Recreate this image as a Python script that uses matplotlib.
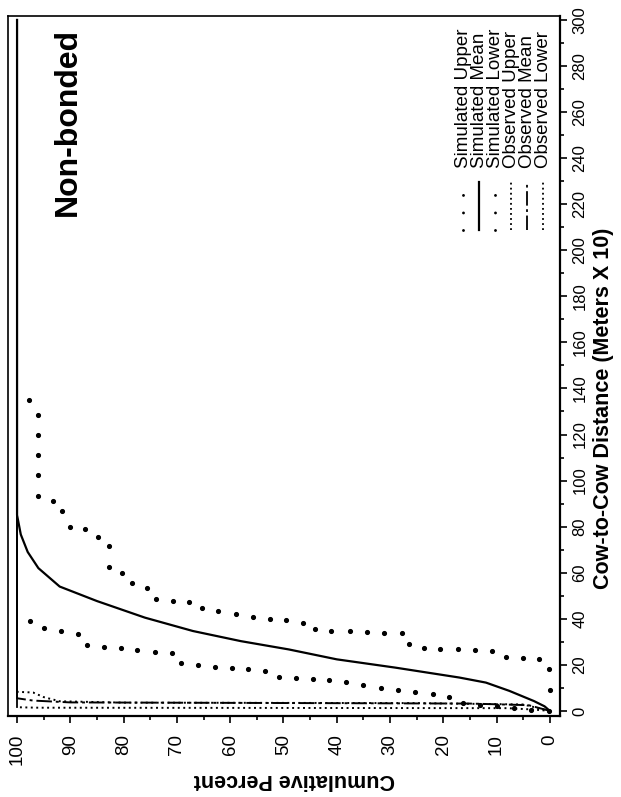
import matplotlib
matplotlib.use("Agg")
import matplotlib.pyplot as plt
from matplotlib.lines import Line2D

plt.rcParams['font.family'] = ['Liberation Sans', 'DejaVu Sans']

# cumulative percent (p) against cow-to-cow distance (d, meters x 10)
sim_mean_d = [0, 2, 4.3, 8.7, 12.3, 14.5, 18.8, 22.4, 26.7, 30.3, 34.7, 40.5, 47.7, 54, 62, 69, 76.6, 85, 300]
sim_mean_p = [0, 1, 3, 7.6, 12, 17, 29, 40, 49, 58, 67, 76, 85, 92, 96, 98, 99.3, 100, 100]

sim_upper_d = [0, 0.3, 1.2, 2.2, 2.6, 3.6, 6.2, 7.5, 8.2, 9, 9.8, 11.1, 12.6, 13.4, 14, 14.5, 14.7,
               17.3, 18, 18.5, 19.2, 19.9, 20.7, 25, 25.7, 26.4, 27.2, 27.7, 28.6, 33.5, 34.7, 36.1, 39]
sim_upper_p = [0.1, 3.5, 6.8, 10, 13.1, 16.3, 18.9, 22, 25.4, 28.5, 31.7, 35, 38.2, 41.4, 44.5, 47.7, 50.8,
               53.4, 56.6, 59.7, 62.9, 66, 69.2, 71, 74.2, 77.4, 80.5, 83.7, 86.9, 88.5, 91.8, 95, 97.5]

sim_lower_d = [9, 18, 22.4, 23, 23.6, 26, 26.3, 26.7, 26.7, 27.2, 28.9, 33.7, 34, 34.4, 34.7, 34.7, 35.7,
               38.3, 39.3, 39.7, 40.8, 41.9, 43.4, 44.8, 47.4, 47.7, 48.7, 53.2, 55.6, 59.7, 62.6, 71.8,
               75.4, 78.8, 79.8, 86.7, 91.3, 93.5, 102.6, 111, 120, 128.6, 135]
sim_lower_p = [0, 0.1, 2, 5.1, 8.3, 10.9, 14, 17.2, 20.6, 23.7, 26.5, 27.8, 31.2, 34.3, 37.6, 41, 44,
               46.3, 49.5, 52.5, 55.8, 59, 62.3, 65.3, 67.7, 70.7, 74, 75.7, 78.5, 80.3, 82.7, 82.8,
               84.8, 87.2, 90.1, 91.5, 93.2, 96.1, 96, 96, 96, 96, 97.8]

obs_upper_d = [0, 0.6, 1.2, 1.3, 1.4, 1.6, 300]
obs_upper_p = [0, 3, 8, 50, 96, 100, 100]
obs_mean_d = [0, 2.5, 3.2, 3.5, 3.7, 4.5, 5.5, 300]
obs_mean_p = [0, 4, 15, 60, 90, 97, 100, 100]
obs_lower_d = [0, 2.8, 3.4, 3.6, 4.2, 6, 8, 8.3, 300]
obs_lower_p = [0, 5, 25, 80, 92, 95, 97, 100, 100]

legend_labels = ["Simulated Upper", "Simulated Mean", "Simulated Lower",
                 "Observed Upper", "Observed Mean", "Observed Lower"]

W, H = 621, 797


def fx(px):
    return px / W


def fy(py):
    return 1 - py / H


fig = plt.figure(figsize=(W / 100, H / 100), dpi=100)
ax = fig.add_axes([fx(8), fy(716), fx(560) - fx(8), fy(16) - fy(716)])

dotted_big = dict(linestyle='none', marker='o', markersize=2.7, color='black')
obs_dot = (0, (1, 1.8))
obs_dash = (0, (8, 2, 1.5, 2))

# observed curves: patterned until they reach 100 %, the run along 100 % reads as solid
for pp, dd, ls in [(obs_upper_p, obs_upper_d, obs_dot),
                   (obs_mean_p, obs_mean_d, obs_dash),
                   (obs_lower_p, obs_lower_d, obs_dot)]:
    k = pp.index(100)
    ax.plot(pp[:k + 1], dd[:k + 1], color='black', lw=1.4, linestyle=ls)
    ax.plot(pp[k:], dd[k:], color='black', lw=1.3)

ax.plot(sim_upper_p, sim_upper_d, **dotted_big)
ax.plot(sim_lower_p, sim_lower_d, **dotted_big)
ax.plot(sim_mean_p, sim_mean_d, color='black', lw=1.6)

ax.set_xlim(101.7, -1.9)
ax.set_ylim(-2.2, 301.7)

ax.set_xticks(range(0, 101, 10))
ax.set_xticks(range(0, 101, 5), minor=True)
ax.yaxis.tick_right()
ax.set_yticks(range(0, 301, 20))
ax.set_yticks(range(0, 301, 10), minor=True)

ax.tick_params(axis='x', which='both', direction='out', width=1.2, labelsize=13.5,
               labelrotation=90, pad=8)
ax.tick_params(axis='x', which='major', length=5)
ax.tick_params(axis='x', which='minor', length=3)
ax.tick_params(axis='y', which='both', direction='out', width=1.2, labelsize=12,
               labelrotation=90, pad=4, left=False, right=True)
ax.tick_params(axis='y', which='major', length=5)
ax.tick_params(axis='y', which='minor', length=3)
for lbl in ax.get_yticklabels():
    lbl.set_va('center')

for side in ['bottom', 'right']:
    ax.spines[side].set_linewidth(1.6)
for side in ['top', 'left']:
    ax.spines[side].set_linewidth(1.2)

fig.text(fx(294), fy(780), "Cumulative Percent", rotation=180, ha='center', va='center',
         fontsize=15.5, fontweight='bold')
fig.text(fx(603), fy(408), "Cow-to-Cow Distance (Meters X 10)", rotation=90, ha='center',
         va='center', fontsize=15.5, fontweight='bold')
fig.text(fx(68), fy(122), "Non-bonded", rotation=90, ha='center', va='center',
         fontsize=23, fontweight='bold')

# legend drawn by hand, rotated like the rest of the chart
col_x = [463, 479, 495, 511, 527, 543]
styles = [dict(lw=2.1, linestyle=(0, (0.01, 6)), dash_capstyle='round'),
          dict(lw=1.6, linestyle='-'),
          dict(lw=2.1, linestyle=(0, (0.01, 6)), dash_capstyle='round'),
          dict(lw=1.3, linestyle=obs_dot),
          dict(lw=1.3, linestyle=obs_dash),
          dict(lw=1.3, linestyle=obs_dot)]
for x, lab, st in zip(col_x, legend_labels, styles):
    fig.add_artist(Line2D([fx(x), fx(x)], [fy(230), fy(182)], color='black',
                          transform=fig.transFigure, **st))
    fig.text(fx(x), fy(168), lab, rotation=90, rotation_mode='anchor', ha='left',
             va='center', fontsize=13.5)

fig.savefig("out.png", dpi=100)
